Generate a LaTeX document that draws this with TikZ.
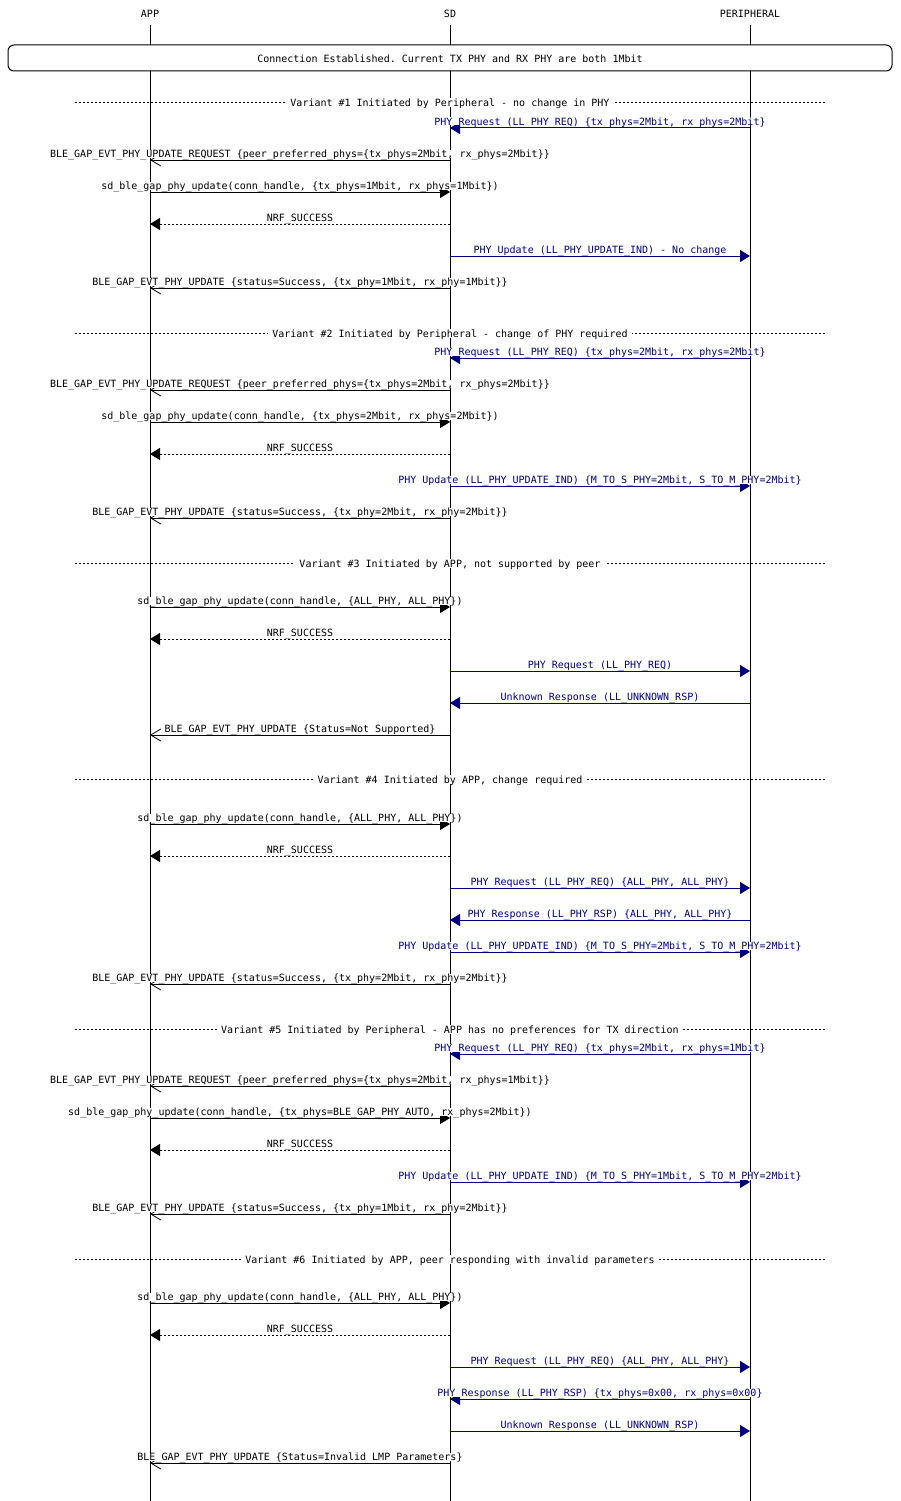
\documentclass[tikz,border=0pt]{standalone}
\usepackage{fontspec}
\setmonofont{DejaVu Sans Mono}
\usetikzlibrary{arrows.meta,calc}
\definecolor{llblue}{RGB}{0,0,128}
\newcommand\seqfont{\ttfamily\fontsize{10}{12}\selectfont}
% message: name, style, from, to, y, label
\newcommand\msg[6]{\draw[#2] (#3 |- 0,#5) -- node[lbl] (#1) {#6} (#4 |- 0,#5);}
% section divider: name, y, label
\newcommand\sectionline[3]{\draw[divline] (75,#2) -- node[divlbl] (#1) {#3} (825,#2);}
\tikzset{
  every node/.style={font=\seqfont},
  life/.style={line width=1pt},
  msgline/.style={line width=1pt},
  sync/.style={msgline, -{Triangle[length=10pt,width=12pt]}},
  ret/.style={msgline, dash pattern=on 2pt off 2pt, -{Triangle[length=10pt,width=12pt]}},
  async/.style={msgline, -{Straight Barb[length=10pt,width=12pt,line width=0.8pt]}},
  ll/.style={sync, color=llblue},
  lbl/.style={anchor=south, yshift=2pt, fill=white, inner sep=0pt,
    text height=8pt, text depth=0pt},
  divline/.style={line width=1pt, dash pattern=on 2pt off 2pt},
  divlbl/.style={fill=white, inner xsep=4pt, inner ysep=0.5pt,
    text height=8pt, text depth=0pt},
  hdr/.style={inner sep=1pt},
  banner/.style={draw, fill=white, line width=1pt, rounded corners=6pt}
}
\begin{document}
\begin{tikzpicture}[x=1pt,y=-1pt]
\useasboundingbox (0,0) rectangle (900,1501);
\fill[white] (0,0) rectangle (900,1501);

% entities and lifelines
\node[hdr] (app) at (150,14) {APP};
\node[hdr] (sd) at (450,14) {SD};
\node[hdr] (per) at (750,14) {PERIPHERAL};
\coordinate (app-end) at (150,1501);
\coordinate (sd-end) at (450,1501);
\coordinate (per-end) at (750,1501);
\draw[life] (app |- 0,25) -- (app-end);
\draw[life] (sd |- 0,25) -- (sd-end);
\draw[life] (per |- 0,25) -- (per-end);

% connection state banner
\draw[banner] (8,45) rectangle (892,71);
\node (conn) at (450,58.5) {Connection Established. Current TX PHY and RX PHY are both 1Mbit};

% Variant 1
\sectionline{v1}{103}{Variant \#1 Initiated by Peripheral - no change in PHY}
\msg{m11}{ll}{per}{sd}{128}{PHY Request (LL\_PHY\_REQ) \{tx\_phys=2Mbit, rx\_phys=2Mbit\}}
\msg{m12}{async}{sd}{app}{160}{BLE\_GAP\_EVT\_PHY\_UPDATE\_REQUEST \{peer\_preferred\_phys=\{tx\_phys=2Mbit, rx\_phys=2Mbit\}\}}
\msg{m13}{sync}{app}{sd}{192}{sd\_ble\_gap\_phy\_update(conn\_handle, \{tx\_phys=1Mbit, rx\_phys=1Mbit\})}
\msg{m14}{ret}{sd}{app}{224}{NRF\_SUCCESS}
\msg{m15}{ll}{sd}{per}{256}{PHY Update (LL\_PHY\_UPDATE\_IND) - No change}
\msg{m16}{async}{sd}{app}{288}{BLE\_GAP\_EVT\_PHY\_UPDATE \{status=Success, \{tx\_phy=1Mbit, rx\_phy=1Mbit\}\}}

% Variant 2
\sectionline{v2}{333}{Variant \#2 Initiated by Peripheral - change of PHY required}
\msg{m21}{ll}{per}{sd}{358}{PHY Request (LL\_PHY\_REQ) \{tx\_phys=2Mbit, rx\_phys=2Mbit\}}
\msg{m22}{async}{sd}{app}{390}{BLE\_GAP\_EVT\_PHY\_UPDATE\_REQUEST \{peer\_preferred\_phys=\{tx\_phys=2Mbit, rx\_phys=2Mbit\}\}}
\msg{m23}{sync}{app}{sd}{422}{sd\_ble\_gap\_phy\_update(conn\_handle, \{tx\_phys=2Mbit, rx\_phys=2Mbit\})}
\msg{m24}{ret}{sd}{app}{454}{NRF\_SUCCESS}
\msg{m25}{ll}{sd}{per}{486}{PHY Update (LL\_PHY\_UPDATE\_IND) \{M\_TO\_S\_PHY=2Mbit, S\_TO\_M\_PHY=2Mbit\}}
\msg{m26}{async}{sd}{app}{518}{BLE\_GAP\_EVT\_PHY\_UPDATE \{status=Success, \{tx\_phy=2Mbit, rx\_phy=2Mbit\}\}}

% Variant 3
\sectionline{v3}{563}{Variant \#3 Initiated by APP, not supported by peer}
\msg{m31}{sync}{app}{sd}{607}{sd\_ble\_gap\_phy\_update(conn\_handle, \{ALL\_PHY, ALL\_PHY\})}
\msg{m32}{ret}{sd}{app}{639}{NRF\_SUCCESS}
\msg{m33}{ll}{sd}{per}{671}{PHY Request (LL\_PHY\_REQ)}
\msg{m34}{ll}{per}{sd}{703}{Unknown Response (LL\_UNKNOWN\_RSP)}
\msg{m35}{async}{sd}{app}{735}{BLE\_GAP\_EVT\_PHY\_UPDATE \{Status=Not Supported\}}

% Variant 4
\sectionline{v4}{779}{Variant \#4 Initiated by APP, change required}
\msg{m41}{sync}{app}{sd}{824}{sd\_ble\_gap\_phy\_update(conn\_handle, \{ALL\_PHY, ALL\_PHY\})}
\msg{m42}{ret}{sd}{app}{856}{NRF\_SUCCESS}
\msg{m43}{ll}{sd}{per}{888}{PHY Request (LL\_PHY\_REQ) \{ALL\_PHY, ALL\_PHY\}}
\msg{m44}{ll}{per}{sd}{920}{PHY Response (LL\_PHY\_RSP) \{ALL\_PHY, ALL\_PHY\}}
\msg{m45}{ll}{sd}{per}{952}{PHY Update (LL\_PHY\_UPDATE\_IND) \{M\_TO\_S\_PHY=2Mbit, S\_TO\_M\_PHY=2Mbit\}}
\msg{m46}{async}{sd}{app}{984}{BLE\_GAP\_EVT\_PHY\_UPDATE \{status=Success, \{tx\_phy=2Mbit, rx\_phy=2Mbit\}\}}

% Variant 5
\sectionline{v5}{1029}{Variant \#5 Initiated by Peripheral - APP has no preferences for TX direction}
\msg{m51}{ll}{per}{sd}{1054}{PHY Request (LL\_PHY\_REQ) \{tx\_phys=2Mbit, rx\_phys=1Mbit\}}
\msg{m52}{async}{sd}{app}{1086}{BLE\_GAP\_EVT\_PHY\_UPDATE\_REQUEST \{peer\_preferred\_phys=\{tx\_phys=2Mbit, rx\_phys=1Mbit\}\}}
\msg{m53}{sync}{app}{sd}{1118}{sd\_ble\_gap\_phy\_update(conn\_handle, \{tx\_phys=BLE\_GAP\_PHY\_AUTO, rx\_phys=2Mbit\})}
\msg{m54}{ret}{sd}{app}{1150}{NRF\_SUCCESS}
\msg{m55}{ll}{sd}{per}{1182}{PHY Update (LL\_PHY\_UPDATE\_IND) \{M\_TO\_S\_PHY=1Mbit, S\_TO\_M\_PHY=2Mbit\}}
\msg{m56}{async}{sd}{app}{1214}{BLE\_GAP\_EVT\_PHY\_UPDATE \{status=Success, \{tx\_phy=1Mbit, rx\_phy=2Mbit\}\}}

% Variant 6
\sectionline{v6}{1259}{Variant \#6 Initiated by APP, peer responding with invalid parameters}
\msg{m61}{sync}{app}{sd}{1303}{sd\_ble\_gap\_phy\_update(conn\_handle, \{ALL\_PHY, ALL\_PHY\})}
\msg{m62}{ret}{sd}{app}{1335}{NRF\_SUCCESS}
\msg{m63}{ll}{sd}{per}{1367}{PHY Request (LL\_PHY\_REQ) \{ALL\_PHY, ALL\_PHY\}}
\msg{m64}{ll}{per}{sd}{1399}{PHY Response (LL\_PHY\_RSP) \{tx\_phys=0x00, rx\_phys=0x00\}}
\msg{m65}{ll}{sd}{per}{1431}{Unknown Response (LL\_UNKNOWN\_RSP)}
\msg{m66}{async}{sd}{app}{1463}{BLE\_GAP\_EVT\_PHY\_UPDATE \{Status=Invalid LMP Parameters\}}
\end{tikzpicture}
\end{document}
